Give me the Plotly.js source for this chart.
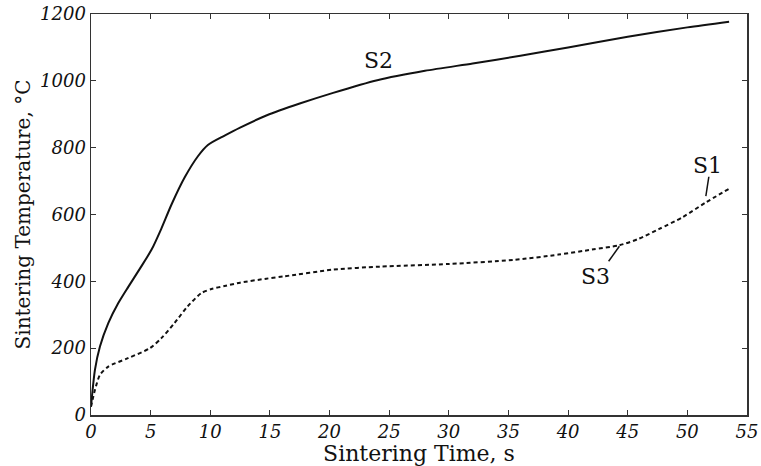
<!DOCTYPE html>
<html>
<head>
<meta charset="utf-8">
<script src="https://cdn.plot.ly/plotly-3.0.1.min.js"></script>
<style>html,body{margin:0;padding:0;background:#fff;}#chart{width:761px;height:466px;}</style>
</head>
<body>
<div id="chart"></div>
<script>
// S2 curve (solid)
const s2Time = [0, 0.33, 0.75, 1.45, 2.29, 3.1, 4.1, 5.08, 5.9, 6.75, 7.87, 8.98, 9.8, 11.2, 12.5, 14.75, 17.5, 20.3, 24, 28, 32, 36, 40, 45, 50, 53.5];
const s2Temp = [25, 135, 205, 275, 335, 382, 438, 495, 558, 630, 712, 775, 808, 836, 860, 897, 932, 964, 1002, 1030, 1052, 1075, 1100, 1132, 1160, 1177];
// S1 / S3 curve (dashed)
const s13Time = [0, 0.33, 0.75, 1.45, 3.1, 4.94, 5.9, 7.0, 8.1, 9.26, 10.1, 11.2, 12.5, 14.7, 16.2, 20.3, 24.2, 30, 35.4, 39.2, 42, 44.3, 45.9, 47.6, 49.6, 51.5, 53.5];
const s13Temp = [25, 75, 120, 145, 170, 200, 230, 275, 325, 365, 377, 386, 396, 408, 415, 435, 444, 452, 464, 480, 495, 508, 527, 556, 592, 635, 677];
// Tick labels
const xTicks = [0, 5, 10, 15, 20, 25, 30, 35, 40, 45, 50, 55];
const yTicks = [0, 200, 400, 600, 800, 1000, 1200];
// Curve labels
const labelText = ["S2", "S1", "S3"];
const labelX = [24.1, 51.7, 42.3];
const labelY = [1060, 748, 413];

const tickFont = {family: "DejaVu Serif", size: 18, color: "#111", style: "italic"};
const xTitleFont = {family: "DejaVu Serif", size: 22, color: "#111"};
const yTitleFont = {family: "DejaVu Serif", size: 20, color: "#111"};
const labelFont = {family: "DejaVu Serif", size: 22, color: "#111"};

const traces = [
  {x: s2Time, y: s2Temp, mode: "lines", name: "S2", line: {color: "#111", width: 2, shape: "spline", smoothing: 0.7}},
  {x: s13Time, y: s13Temp, mode: "lines", name: "S1/S3", line: {color: "#111", width: 2, dash: "4px,3px", shape: "spline", smoothing: 0.7}}
];

const annotations = labelText.map((t, i) => ({
  x: labelX[i], y: labelY[i], xref: "x", yref: "y", text: t, showarrow: false,
  font: labelFont
}));

const shapes = [
  {type: "line", xref: "x", yref: "y", x0: 51.8, y0: 713, x1: 51.55, y1: 655, line: {color: "#111", width: 1.5}},
  {type: "line", xref: "x", yref: "y", x0: 44.3, y0: 505, x1: 43.4, y1: 460, line: {color: "#111", width: 1.5}}
];

const axisCommon = {
  showgrid: false, zeroline: false, showline: true, linecolor: "#333", linewidth: 1.5,
  mirror: "ticks", ticks: "inside", ticklen: 5, tickwidth: 1, tickcolor: "#333",
  tickfont: tickFont
};

const layout = {
  width: 761, height: 466,
  margin: {l: 91, r: 14, t: 14, b: 51},
  paper_bgcolor: "#fff", plot_bgcolor: "#fff",
  showlegend: false,
  xaxis: Object.assign({}, axisCommon, {
    range: [0, 55], tickvals: xTicks, ticktext: xTicks.map(String),
    title: {text: "Sintering Time, s", font: xTitleFont, standoff: 0}
  }),
  yaxis: Object.assign({}, axisCommon, {
    range: [0, 1200], tickvals: yTicks, ticktext: yTicks.map(String),
    title: {text: "Sintering Temperature, °C", font: yTitleFont, standoff: 4}
  }),
  annotations: annotations,
  shapes: shapes
};

Plotly.newPlot("chart", traces, layout, {displayModeBar: false, staticPlot: true});
</script>
</body>
</html>
